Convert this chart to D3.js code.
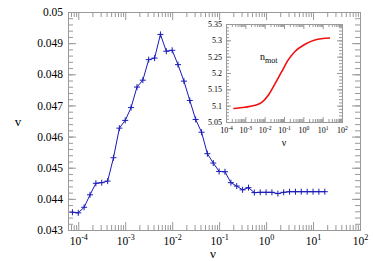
<!DOCTYPE html>
<html>
<head>
<meta charset="utf-8">
<script src="https://d3js.org/d3.v7.min.js"></script>
<style>
    body{margin:0;background:#fff;}
    text{font-family:'Liberation Serif','Times New Roman',serif;fill:#000;}
    .domain{stroke:#999;}
    .tick line{stroke:#999;}
</style>
</head>
<body>
<svg id="chart" width="373" height="261"></svg>
<script>
// main curve: v against nu
const nu = [7.50e-5,
    1.00e-4, 1.33e-4, 1.78e-4, 2.37e-4, 3.16e-4, 4.22e-4, 5.62e-4, 7.50e-4,
    1.00e-3, 1.33e-3, 1.78e-3, 2.37e-3, 3.16e-3, 4.22e-3, 5.62e-3, 7.50e-3,
    1.00e-2, 1.33e-2, 1.78e-2, 2.37e-2, 3.16e-2, 4.22e-2, 5.62e-2, 7.50e-2,
    1.00e-1, 1.33e-1, 1.78e-1, 2.37e-1, 3.16e-1, 4.22e-1, 5.62e-1, 7.50e-1,
    1.00, 1.33, 1.78, 2.37, 3.16, 4.22, 5.62, 7.50,
    10.0, 13.3, 17.8];
const v = [0.04357,
    0.04355, 0.04373, 0.04413, 0.04450, 0.04452, 0.04457, 0.04532, 0.04627,
    0.04652, 0.04693, 0.04759, 0.04781, 0.04847, 0.04852, 0.04928, 0.04874,
    0.04877, 0.04831, 0.04778, 0.04716, 0.04655, 0.04614, 0.04545, 0.04515,
    0.04488, 0.04487, 0.04452, 0.04441, 0.04429, 0.04436, 0.04420, 0.04421,
    0.04421, 0.04421, 0.04417, 0.04421, 0.04423, 0.04423, 0.04423, 0.04423,
    0.04423, 0.04423, 0.04423];

// inset curve: n_mot against nu
const nuIn = [2.4e-4, 9.5e-4, 3.2e-3, 7.0e-3, 1.55e-2, 3.5e-2, 7.6e-2, 0.166, 0.37, 1.23, 4.0, 24];
const nmot = [5.0913, 5.0953, 5.101, 5.110, 5.132, 5.168, 5.204, 5.240, 5.266, 5.288, 5.301, 5.307];

// tick labels
const xTicks = [1e-4, 1e-3, 1e-2, 1e-1, 1, 10, 100];
const xExp = ["-4", "-3", "-2", "-1", "0", "1", "2"];
const yTicks = [0.043, 0.044, 0.045, 0.046, 0.047, 0.048, 0.049, 0.05];
const yTicksIn = [5.05, 5.1, 5.15, 5.2, 5.25, 5.3, 5.35];

const svg = d3.select("#chart");

// minor ticks on a log axis: 2..9 of every decade
function logMinors(lo, hi){
    let out = [];
    for (let e = lo; e < hi; e++)
        for (let m = 2; m < 10; m++) out.push(m * Math.pow(10, e));
    return out;
}

function frame(g, x, y, w, h, o){
    const left = o.left, right = o.left + w, top = o.top, bottom = o.top + h;
    // minor ticks
    g.append("g").attr("transform", `translate(0,${bottom})`)
        .call(d3.axisBottom(x).tickValues(o.xMinor).tickSize(-o.minor).tickFormat(""));
    g.append("g").attr("transform", `translate(0,${top})`)
        .call(d3.axisTop(x).tickValues(o.xMinor).tickSize(-o.minor).tickFormat(""));
    g.append("g").attr("transform", `translate(${left},0)`)
        .call(d3.axisLeft(y).tickValues(o.yMinor).tickSize(-o.minor).tickFormat(""));
    g.append("g").attr("transform", `translate(${right},0)`)
        .call(d3.axisRight(y).tickValues(o.yMinor).tickSize(-o.minor).tickFormat(""));
    // major ticks
    const bx = g.append("g").attr("transform", `translate(0,${bottom})`)
        .call(d3.axisBottom(x).tickValues(o.xTicks).tickSize(-o.major).tickPadding(o.xPad).tickFormat(""));
    g.append("g").attr("transform", `translate(0,${top})`)
        .call(d3.axisTop(x).tickValues(o.xTicks).tickSize(-o.major).tickFormat(""));
    g.append("g").attr("transform", `translate(${left},0)`)
        .call(d3.axisLeft(y).tickValues(o.yTicks).tickSize(-o.major).tickPadding(o.yPad).tickFormat(o.yFmt))
        .call(s => s.selectAll("text").style("font-size", o.font + "px").style("font-family", null));
    g.append("g").attr("transform", `translate(${right},0)`)
        .call(d3.axisRight(y).tickValues(o.yTicks).tickSize(-o.major).tickFormat(""));
    // 10^n labels
    bx.selectAll(".tick").each(function(d, i){
        const t = d3.select(this).append("text")
            .attr("y", o.xBase).attr("text-anchor", "middle")
            .style("font-size", o.font + "px");
        t.append("tspan").text("10");
        t.append("tspan").attr("dy", -o.font * 0.4).style("font-size", (o.font * 0.7) + "px").text(xExp[i]);
    });
    g.selectAll(".domain").attr("stroke", "#999");
}

// ---------- main plot ----------
const M = {left: 68, top: 12, w: 292, h: 218};
const x = d3.scaleLog().domain([6.04e-5, 100]).range([M.left, M.left + M.w]);
const y = d3.scaleLinear().domain([0.043, 0.05]).range([M.top + M.h, M.top]);

const gm = svg.append("g");
frame(gm, x, y, M.w, M.h, {
    left: M.left, top: M.top,
    xTicks: xTicks, xMinor: logMinors(-5, 2).filter(d => d > 6.04e-5),
    yTicks: yTicks, yMinor: d3.range(0.0432, 0.04999, 0.0002),
    major: 8, minor: 5, font: 11.5, xPad: 3, yPad: 5, xBase: 15,
    yFmt: d3.format(".3~f")
});

gm.append("path")
    .datum(nu.map((d, i) => [d, v[i]]))
    .attr("fill", "none").attr("stroke", "#1a1ab8").attr("stroke-width", 1)
    .attr("d", d3.line().x(d => x(d[0])).y(d => y(d[1])));

gm.selectAll(".mk").data(nu.map((d, i) => [d, v[i]])).join("path")
    .attr("class", "mk")
    .attr("stroke", "#1a1ab8").attr("stroke-width", 1)
    .attr("d", d => { const px = x(d[0]), py = y(d[1]);
        return `M${px - 3},${py}H${px + 3}M${px},${py - 3}V${py + 3}`; });

svg.append("text").attr("x", 213).attr("y", 258).attr("text-anchor", "middle")
    .style("font-size", "13px").text("ν");
svg.append("text").attr("x", 18).attr("y", 126).attr("text-anchor", "middle")
    .style("font-size", "13px").text("v");

// ---------- inset ----------
const I = {left: 226, top: 24, w: 116, h: 98};
const xi = d3.scaleLog().domain([1e-4, 100]).range([I.left, I.left + I.w]);
const yi = d3.scaleLinear().domain([5.05, 5.35]).range([I.top + I.h, I.top]);

const gi = svg.append("g");
gi.append("rect").attr("x", I.left).attr("y", I.top).attr("width", I.w).attr("height", I.h).attr("fill", "#fff");
frame(gi, xi, yi, I.w, I.h, {
    left: I.left, top: I.top,
    xTicks: xTicks, xMinor: logMinors(-4, 2),
    yTicks: yTicksIn, yMinor: d3.range(5.06, 5.3499, 0.01),
    major: 5, minor: 3, font: 8, xPad: 2, yPad: 4, xBase: 11,
    yFmt: d3.format(".3~f")
});

gi.append("path")
    .datum(nuIn.map((d, i) => [d, nmot[i]]))
    .attr("fill", "none").attr("stroke", "#f01010").attr("stroke-width", 1.6)
    .attr("d", d3.line().curve(d3.curveMonotoneX).x(d => xi(d[0])).y(d => yi(d[1])));

const lab = svg.append("text").attr("x", 260).attr("y", 60).style("font-size", "10px");
lab.append("tspan").text("n");
lab.append("tspan").attr("dy", 3).style("font-size", "8px").text("mot");

svg.append("text").attr("x", 284).attr("y", 146).attr("text-anchor", "middle")
    .style("font-size", "10px").text("ν");
</script>
</body>
</html>
